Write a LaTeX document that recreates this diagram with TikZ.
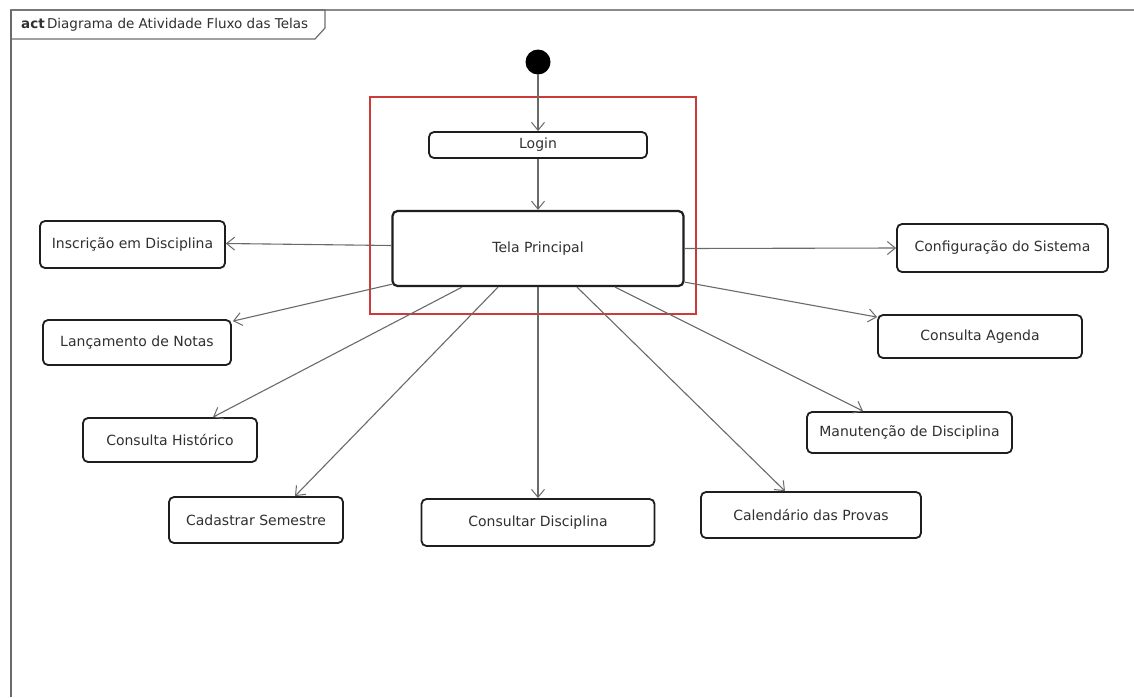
\documentclass[tikz,border=0pt]{standalone}
\usepackage{fontspec}
\setmainfont{DejaVu Sans}
\usetikzlibrary{arrows.meta,calc}
\definecolor{framegray}{HTML}{8A8A8A}
\definecolor{edgegray}{HTML}{6A6A6A}
\definecolor{textgray}{HTML}{303030}
\definecolor{boxline}{HTML}{1E1E1E}
\definecolor{markred}{HTML}{CC3A3A}
\tikzset{
  activity/.style={draw=boxline, line width=1.8pt, rounded corners=5pt, fill=white,
    inner sep=0pt, text=textgray, font=\fontsize{14}{16}\selectfont},
  flow/.style={draw=edgegray, line width=1.1pt,
    -{Straight Barb[length=8pt,width=13pt,line width=1pt]}},
}
\begin{document}
\begin{tikzpicture}[x=1pt,y=-1pt]
\useasboundingbox (0,0) rectangle (1134,697);
\fill[white] (0,0) rectangle (1134,697);

% diagram frame and its name tab
\draw[framegray, line width=2.2pt] (10,10) -- (1134,10);
\draw[edgegray, line width=1.8pt] (11,10) -- (11,697);
\draw[framegray!80!black, line width=1.2pt] (11,10) -- (325,10) -- (325,28) -- (315,39) -- (11,39);
\node[anchor=west, inner sep=0pt, text=textgray, font=\fontsize{13.5}{15}\selectfont]
  (title) at (21,24.5) {\textbf{act}\,Diagrama de Atividade Fluxo das Telas};

% highlight around the entry screens
\draw[markred, line width=1.2pt] (370,97) rectangle (696,314);

% initial node
\fill[black] (538,62) circle (12.5);
\coordinate (start) at (538,74);

% activities
\node[activity, minimum width=218pt, minimum height=26pt] (login)  at (538,145)   {Login};
\node[activity, minimum width=291pt, minimum height=75pt, line width=2.2pt] (tela) at (538,248.5) {Tela Principal};
\node[activity, minimum width=185pt, minimum height=47pt] (insc)   at (132.5,244.5) {Inscrição em Disciplina};
\node[activity, minimum width=188pt, minimum height=45pt] (lanc)   at (137,342.5)   {Lançamento de Notas};
\node[activity, minimum width=211pt, minimum height=48pt] (config) at (1002.5,248)  {Configuração do Sistema};
\node[activity, minimum width=204pt, minimum height=43pt] (agenda) at (980,336.5)   {Consulta Agenda};
\node[activity, minimum width=174pt, minimum height=44pt] (hist)   at (170,440)     {Consulta Histórico};
\node[activity, minimum width=174pt, minimum height=46pt] (cad)    at (256,520)     {Cadastrar Semestre};
\node[activity, minimum width=233pt, minimum height=47pt] (cons)   at (538,522.5)   {Consultar Disciplina};
\node[activity, minimum width=220pt, minimum height=46pt] (cal)    at (811,515)     {Calendário das Provas};
\node[activity, minimum width=205pt, minimum height=41pt] (manut)  at (909.5,432.5) {Manutenção de Disciplina};

% control flows
\draw[flow] (start) -- (login.north);
\draw[flow] (login.south) -- (tela.north);
\draw[flow] ($(tela.west)+(0,-3)$) -- ($(insc.east)+(0,-1)$);
\draw[flow] ($(tela.south west)+(1,-3)$) -- ($(lanc.north east)+(1,2)$);
\draw[flow] ($(tela.south)+(-76,0)$) -- ($(hist.north)+(43,0)$);
\draw[flow] ($(tela.south)+(-40,0)$) -- ($(cad.north)+(39,0)$);
\draw[flow] (tela.south) -- (cons.north);
\draw[flow] ($(tela.south)+(39,0)$) -- ($(cal.north)+(-26,0)$);
\draw[flow] ($(tela.south)+(77,0)$) -- ($(manut.north)+(-46.5,0)$);
\draw[flow] ($(tela.south east)+(0,-5)$) -- ($(agenda.north west)+(0,3)$);
\draw[flow] (tela.east) -- (config.west);
\end{tikzpicture}
\end{document}
